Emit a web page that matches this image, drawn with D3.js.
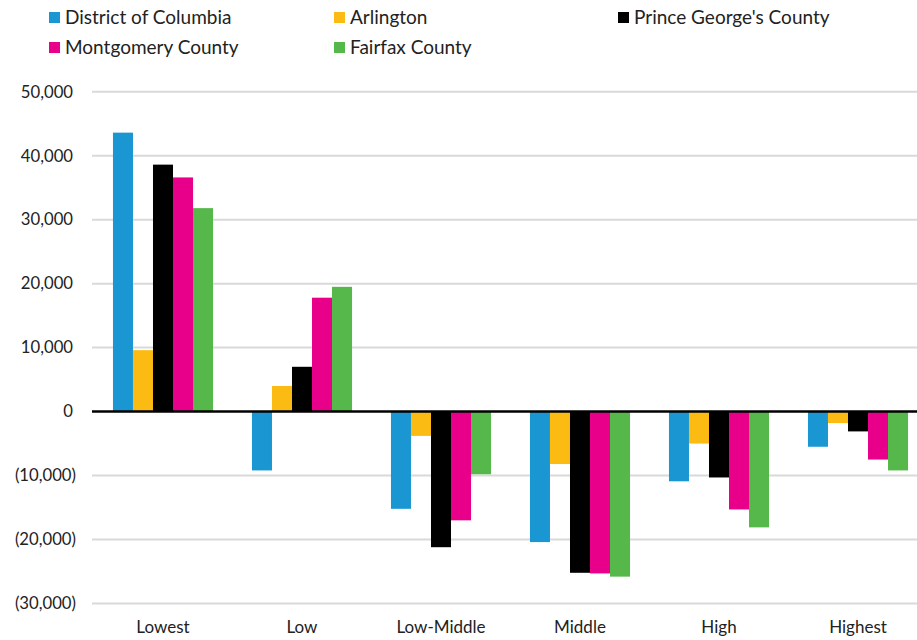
<!DOCTYPE html>
<html>
<head>
<meta charset="utf-8">
<script src="https://cdn.jsdelivr.net/npm/d3@7"></script>
<style>
	body { margin: 0; background: #fff; }
	svg { display: block; font-family: Lato, "Open Sans", sans-serif; }
</style>
</head>
<body>
<svg id="plot" width="917" height="640"></svg>
<script>
const CATEGORIES = ['Lowest', 'Low', 'Low-Middle', 'Middle', 'High', 'Highest'];
const SERIES = ['District of Columbia', 'Arlington', "Prince George's County", 'Montgomery County', 'Fairfax County'];
const COLORS = ['#1a96d3', '#fbbb13', '#000000', '#e8008a', '#56b74a'];

// values, one array per series (same order as CATEGORIES)
const DC = [43600, -9200, -15200, -20400, -10900, -5500];
const ARLINGTON = [9600, 4000, -3800, -8200, -5000, -1800];
const PRINCE_GEORGES = [38600, 7000, -21200, -25200, -10300, -3100];
const MONTGOMERY = [36600, 17800, -17000, -25300, -15300, -7500];
const FAIRFAX = [31800, 19500, -9800, -25800, -18100, -9200];

const Y_TICKS = [50000, 40000, 30000, 20000, 10000, 0, -10000, -20000, -30000];

function whenDocumentLoaded(action) {
	if (document.readyState === "loading") {
		document.addEventListener("DOMContentLoaded", action);
	} else {
		action();
	}
}

function fmt(v) {
	const s = d3.format(',')(Math.abs(v));
	return v < 0 ? '(' + s + ')' : s;
}

whenDocumentLoaded(() => {
	const svg = d3.select('#plot');
	const values = [DC, ARLINGTON, PRINCE_GEORGES, MONTGOMERY, FAIRFAX];

	const data = [];
	CATEGORIES.forEach((c, ci) => {
		SERIES.forEach((s, si) => {
			data.push({cat: c, series: s, value: values[si][ci], color: COLORS[si]});
		});
	});

	const x0 = d3.scaleBand()
		.domain(CATEGORIES)
		.range([93.5, 927.5])
		.paddingInner(0.28)
		.paddingOuter(0.14);

	const x1 = d3.scaleBand()
		.domain(SERIES)
		.range([0, x0.bandwidth()]);

	const y = d3.scaleLinear()
		.domain([-30000, 50000])
		.range([603.5, 91.7]);

	// gridlines
	svg.append('g')
		.selectAll('line')
		.data(Y_TICKS.filter(d => d !== 0))
		.enter()
		.append('line')
			.attr('x1', 92)
			.attr('x2', 927)
			.attr('y1', d => y(d))
			.attr('y2', d => y(d))
			.attr('stroke', '#d9d9d9')
			.attr('stroke-width', 2);

	// y labels (positives leave room for the closing bracket, like the accounting format)
	svg.append('g')
		.selectAll('text')
		.data(Y_TICKS)
		.enter()
		.append('text')
			.text(d => fmt(d))
			.attr('x', d => d < 0 ? 76 : 73)
			.attr('y', d => y(d))
			.attr('dy', '0.35em')
			.attr('text-anchor', 'end')
			.attr('font-size', 16.7)
			.attr('fill', '#222');

	// bars
	svg.append('g')
		.selectAll('rect')
		.data(data)
		.enter()
		.append('rect')
			.attr('x', d => x0(d.cat) + x1(d.series))
			.attr('width', x1.bandwidth())
			.attr('y', d => y(Math.max(0, d.value)))
			.attr('height', d => Math.abs(y(d.value) - y(0)))
			.attr('fill', d => d.color);

	// zero line
	svg.append('line')
		.attr('x1', 92)
		.attr('x2', 927)
		.attr('y1', y(0))
		.attr('y2', y(0))
		.attr('stroke', '#000')
		.attr('stroke-width', 2.5);

	// category labels
	svg.append('g')
		.selectAll('text')
		.data(CATEGORIES)
		.enter()
		.append('text')
			.text(d => d)
			.attr('x', d => x0(d) + x0.bandwidth() / 2)
			.attr('y', 633)
			.attr('text-anchor', 'middle')
			.attr('font-size', 17)
			.attr('fill', '#222');

	// legend, two rows
	const legendPos = [[49, 12], [334, 12], [618, 12], [49, 42], [334, 42]];
	const legend = svg.append('g')
		.selectAll('g')
		.data(SERIES)
		.enter()
		.append('g')
			.attr('transform', (d, i) => `translate(${legendPos[i][0]},${legendPos[i][1]})`);

	legend.append('rect')
		.attr('width', 11)
		.attr('height', 11)
		.attr('fill', (d, i) => COLORS[i]);

	legend.append('text')
		.text(d => d)
		.attr('x', 16)
		.attr('y', 12)
		.attr('font-size', 19)
		.attr('fill', '#222');
});
</script>
</body>
</html>
